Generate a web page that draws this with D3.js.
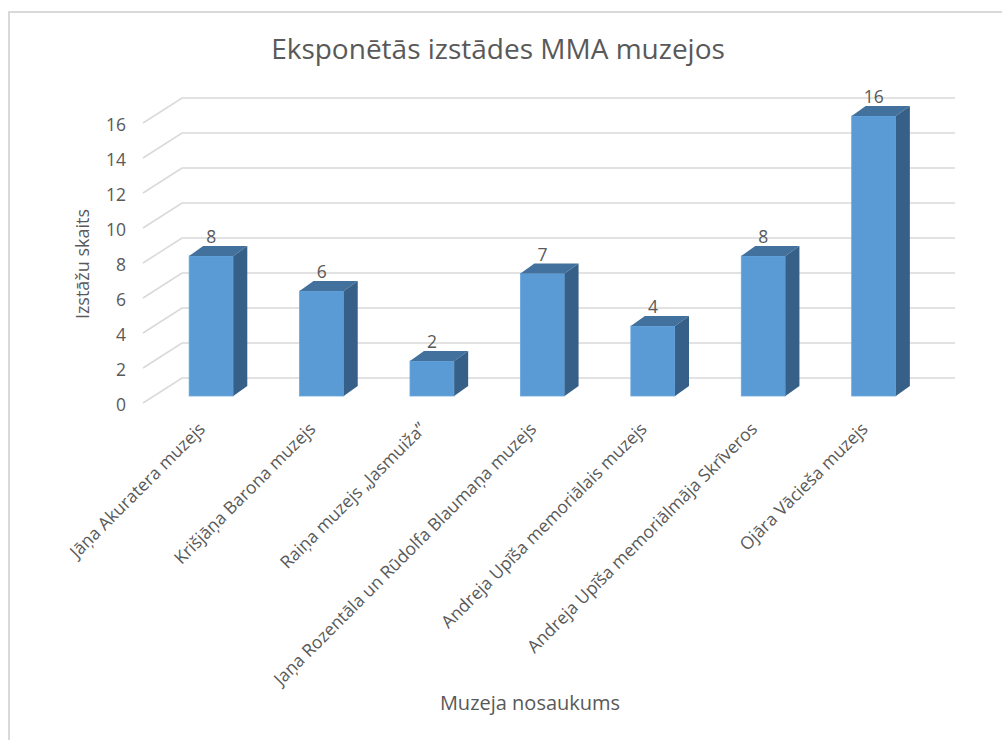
<!DOCTYPE html>
<html>
<head>
<meta charset="utf-8">
<script src="https://cdn.jsdelivr.net/npm/d3@7"></script>
<style>
  body { margin: 0; background: #fff; }
  text { font-family: "Open Sans", sans-serif; fill: #595959; }
</style>
</head>
<body>
<div id="chart"></div>
<script>
const categories = [
  'Jāņa Akuratera muzejs',
  'Krišjāņa Barona muzejs',
  'Raiņa muzejs „Jasmuiža”',
  'Jaņa Rozentāla un Rūdolfa Blaumaņa muzejs',
  'Andreja Upīša memoriālais muzejs',
  'Andreja Upīša memoriālmāja Skrīveros',
  'Ojāra Vācieša muzejs'
];
const values = [8, 6, 2, 7, 4, 8, 16];
const yTicks = [0, 2, 4, 6, 8, 10, 12, 14, 16];

const width = 1002;
const height = 740;

// 3d offsets: bar depth and the front / back planes of the floor
const depth = { dx: 14, dy: -10 };
const front = { dx: -13, dy: 7 };
const back = { dx: 26, dy: -18 };

const svg = d3.select('#chart')
  .append('svg')
  .attr('width', width)
  .attr('height', height);

// chart area border (right and bottom are cut off in the picture)
svg.append('rect')
  .attr('x', 9)
  .attr('y', 12)
  .attr('width', 1100)
  .attr('height', 900)
  .attr('fill', 'none')
  .attr('stroke', '#d9d9d9')
  .attr('stroke-width', 2);

const x = d3.scaleBand()
  .domain(categories)
  .range([156, 929])
  .paddingInner(0.6)
  .paddingOuter(0.3);

const y = d3.scaleLinear()
  .domain([0, 16])
  .range([396, 116]);

const bw = x.bandwidth();
const x0 = x.range()[0];
const x1 = x.range()[1];

// gridlines: slanted on the side wall, then flat along the back wall
svg.append('g')
  .selectAll('path')
  .data(yTicks)
  .join('path')
  .attr('d', (d) => `M${x0 + front.dx},${y(d) + front.dy}L${x0 + back.dx},${y(d) + back.dy}L${x1 + back.dx},${y(d) + back.dy}`)
  .attr('fill', 'none')
  .attr('stroke', '#d9d9d9')
  .attr('stroke-width', 1.5);

// y axis labels
const yFront = y.copy().range(y.range().map((v) => v + front.dy + 2));
svg.append('g')
  .attr('transform', `translate(${x0 + front.dx - 2}, 0)`)
  .call(d3.axisLeft(yFront).tickValues(yTicks).tickSize(0).tickPadding(15))
  .call((g) => g.select('.domain').remove())
  .call((g) => g.selectAll('text')
    .style('font-family', '"Open Sans", sans-serif')
    .style('font-size', '17.5px')
    .attr('fill', '#595959'));

const bars = svg.append('g')
  .selectAll('g')
  .data(categories.map((c, i) => ({ c, v: values[i] })))
  .join('g');

bars.append('rect')
  .attr('x', (d) => x(d.c))
  .attr('y', (d) => y(d.v))
  .attr('width', bw)
  .attr('height', (d) => y(0) - y(d.v))
  .attr('fill', '#5b9bd5')
  .attr('stroke', '#6aa6dc')
  .attr('stroke-width', 0.8);

bars.append('path')
  .attr('d', (d) => {
    const l = x(d.c), t = y(d.v);
    return `M${l},${t}L${l + depth.dx},${t + depth.dy}L${l + bw + depth.dx},${t + depth.dy}L${l + bw},${t}Z`;
  })
  .attr('fill', '#41719c');

bars.append('path')
  .attr('d', (d) => {
    const r = x(d.c) + bw, t = y(d.v), b = y(0);
    return `M${r},${t}L${r + depth.dx},${t + depth.dy}L${r + depth.dx},${b + depth.dy}L${r},${b}Z`;
  })
  .attr('fill', '#376089');

// data labels
bars.append('text')
  .attr('x', (d) => x(d.c) + bw / 2)
  .attr('y', (d) => y(d.v) + depth.dy - 3)
  .attr('text-anchor', 'middle')
  .style('font-size', '17.5px')
  .text((d) => d.v);

// category labels
svg.append('g')
  .selectAll('text')
  .data(categories)
  .join('text')
  .attr('transform', (d) => `translate(${x(d) + bw / 2 - 5}, 430) rotate(-45)`)
  .attr('text-anchor', 'end')
  .style('font-size', '17.5px')
  .text((d) => d);

// titles
svg.append('text')
  .attr('x', 498)
  .attr('y', 59)
  .attr('text-anchor', 'middle')
  .style('font-size', '28px')
  .text('Eksponētās izstādes MMA muzejos');

svg.append('text')
  .attr('transform', 'translate(89, 264) rotate(-90)')
  .attr('text-anchor', 'middle')
  .style('font-size', '18px')
  .text('Izstāžu skaits');

svg.append('text')
  .attr('x', 530)
  .attr('y', 710)
  .attr('text-anchor', 'middle')
  .style('font-size', '20px')
  .text('Muzeja nosaukums');
</script>
</body>
</html>
